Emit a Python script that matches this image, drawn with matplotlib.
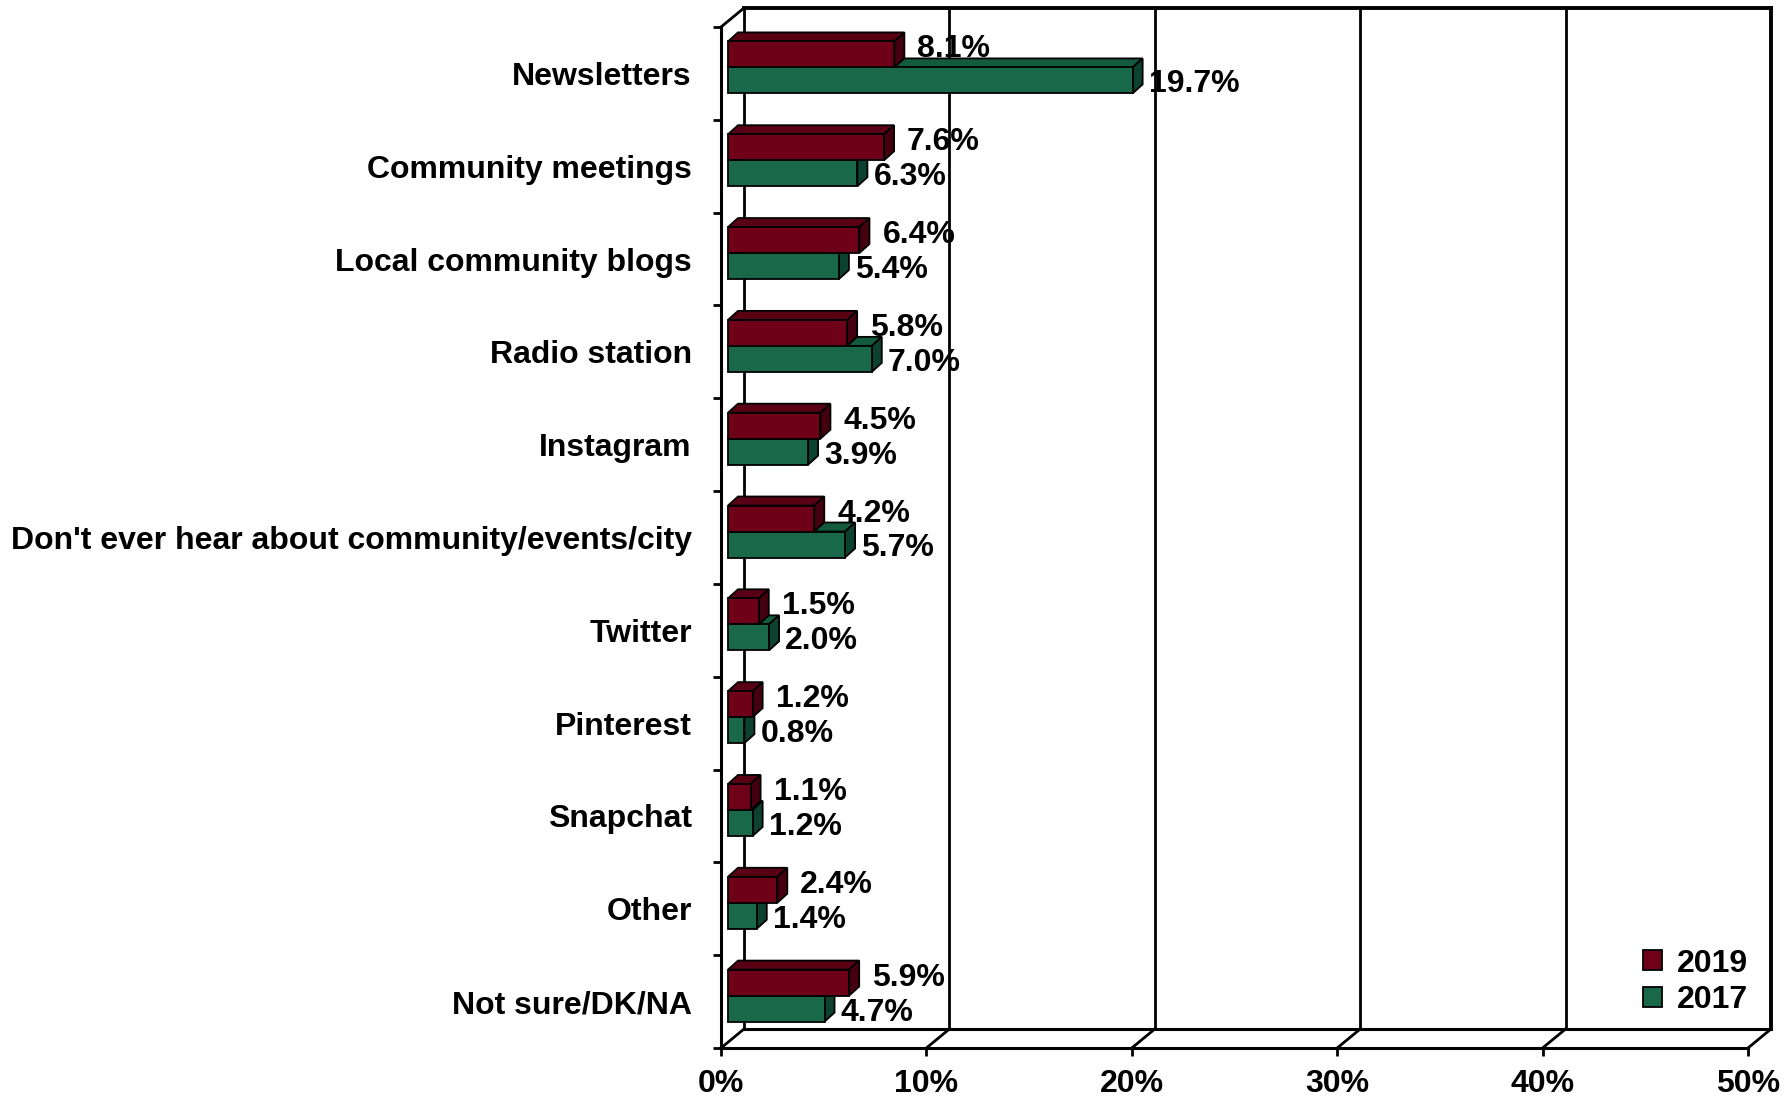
import matplotlib
matplotlib.use("Agg")
import matplotlib.pyplot as plt
from matplotlib.patches import Polygon, Patch

# ---------------- data ----------------
categories = ["Newsletters", "Community meetings", "Local community blogs",
              "Radio station", "Instagram",
              "Don't ever hear about community/events/city", "Twitter",
              "Pinterest", "Snapchat", "Other", "Not sure/DK/NA"]
values_2019 = [8.1, 7.6, 6.4, 5.8, 4.5, 4.2, 1.5, 1.2, 1.1, 2.4, 5.9]
values_2017 = [19.7, 6.3, 5.4, 7.0, 3.9, 5.7, 2.0, 0.8, 1.2, 1.4, 4.7]
series_names = ["2019", "2017"]
x_ticks = [0, 10, 20, 30, 40, 50]
x_tick_labels = ["0%", "10%", "20%", "30%", "40%", "50%"]

# ---------------- style ----------------
plt.rcParams['font.family'] = ['Liberation Sans', 'DejaVu Sans']
plt.rcParams['font.weight'] = 'bold'
FS = 23

RED = dict(front='#6E0018', top='#5A0014', side='#45000F')
GREEN = dict(front='#19684A', top='#145A3E', side='#0D4230')

fig = plt.figure(figsize=(17.9, 10.99), dpi=100)
ax = fig.add_axes([721/1790, 1-1048/1099, 1027/1790, 1021/1099])
n = len(categories)
ax.set_xlim(0, 50)
ax.set_ylim(n, 0)

pxx = ax.bbox.width / 50.0
pxy = ax.bbox.height / n
def dx(p):
    return p / pxx
def dy(p):  # upward pixels -> data units (y inverted)
    return -p / pxy

# ---------------- back wall & floor ----------------
Dx, Dy = dx(23), dy(19)
lk = dict(color='black', clip_on=False, solid_capstyle='projecting')
ax.plot([0 + Dx, 50 + Dx], [0 + Dy, 0 + Dy], lw=2.8, **lk)
ax.plot([50 + Dx, 50 + Dx], [0 + Dy, n + Dy], lw=2.8, **lk)
ax.plot([0 + Dx, 50 + Dx], [n + Dy, n + Dy], lw=2.2, **lk)
for t in x_ticks[:-1]:
    ax.plot([t + Dx, t + Dx], [0 + Dy, n + Dy], lw=2.0, **lk)
for t in x_ticks:
    ax.plot([t, t + Dx], [n, n + Dy], lw=2.0, **lk)
ax.plot([0, Dx], [0, Dy], lw=2.0, **lk)

# ---------------- 3D bars ----------------
h = dy(-26)          # bar thickness (26 px)
x0 = dx(7)           # depth position of bars
ysh = dy(6)
bdx, bdy = dx(10), dy(9)  # bar depth
ec = dict(edgecolor='black', linewidth=1.3)

def bar3d(v, ytop, colors, z):
    ybot = ytop + h
    top = Polygon([(x0, ytop), (x0 + v, ytop), (x0 + v + bdx, ytop + bdy),
                   (x0 + bdx, ytop + bdy)], closed=True,
                  facecolor=colors['top'], zorder=z, clip_on=False, **ec)
    side = Polygon([(x0 + v, ytop), (x0 + v + bdx, ytop + bdy),
                    (x0 + v + bdx, ybot + bdy), (x0 + v, ybot)], closed=True,
                   facecolor=colors['side'], zorder=z + 0.1, clip_on=False, **ec)
    ax.add_patch(top)
    ax.add_patch(side)
    ax.barh(ytop + h / 2, v, height=h, left=x0, color=colors['front'],
            zorder=z + 0.2, clip_on=False, **ec)

for i in range(n):
    yc = i + 0.5 + ysh
    bar3d(values_2017[i], yc, GREEN, 3)
    bar3d(values_2019[i], yc - h, RED, 4)
    ax.annotate(f"{values_2017[i]:.1f}%", xy=(x0 + values_2017[i] + bdx, yc + h / 2),
                xytext=(6, -4), textcoords='offset pixels', ha='left', va='center',
                fontsize=FS, fontweight='bold', zorder=6, annotation_clip=False)
    ax.annotate(f"{values_2019[i]:.1f}%", xy=(x0 + values_2019[i] + bdx, yc - h / 2),
                xytext=(13, 5), textcoords='offset pixels', ha='left', va='center',
                fontsize=FS, fontweight='bold', zorder=6, annotation_clip=False)

# ---------------- axes ----------------
for s in ['top', 'right']:
    ax.spines[s].set_visible(False)
for s in ['left', 'bottom']:
    ax.spines[s].set_linewidth(2.2)
    ax.spines[s].set_zorder(5)
ax.patch.set_visible(False)

ax.set_yticks(range(n + 1))
ax.set_yticklabels([])
ax.tick_params(axis='y', which='major', direction='out', length=6, width=2)
ax.set_yticks([i + 0.5 for i in range(n)], minor=True)
ax.set_yticklabels(categories, minor=True, fontsize=FS, fontweight='bold')
ax.tick_params(axis='y', which='minor', length=0, pad=21)

ax.set_xticks(x_ticks)
ax.set_xticklabels(x_tick_labels, fontsize=FS, fontweight='bold')
ax.tick_params(axis='x', direction='out', length=6, width=2, pad=9)

# ---------------- legend ----------------
handles = [Patch(facecolor=RED['front'], edgecolor='black', linewidth=1.3),
           Patch(facecolor=GREEN['front'], edgecolor='black', linewidth=1.3)]
fig.legend(handles, series_names, loc='lower right',
           bbox_to_anchor=(1748/1790, 1 - 1015/1099), frameon=False,
           fontsize=FS, handlelength=0.6, handleheight=0.6,
           handletextpad=0.45, labelspacing=0.2, borderpad=0, borderaxespad=0)

fig.savefig("out.png", dpi=100)
